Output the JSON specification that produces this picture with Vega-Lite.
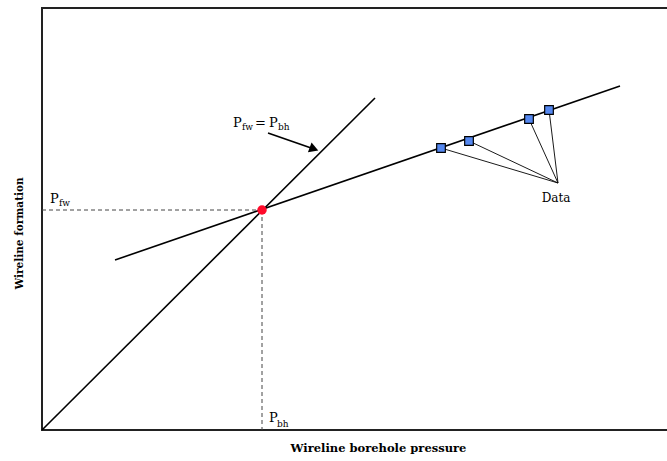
{
  "$schema": "https://vega.github.io/schema/vega-lite/v6.json",
  "autosize": "none",
  "width": 672,
  "height": 422,
  "padding": {"left": 42, "top": 8, "right": 0, "bottom": 31},
  "background": "white",
  "config": {
    "view": {"stroke": "#222", "strokeWidth": 2},
    "font": "DejaVu Serif"
  },
  "datasets": {
    "segs": [
      {"kind": "equal", "x": 0, "y": 0, "x2": 333, "y2": 332},
      {"kind": "fit", "x": 73, "y": 170, "x2": 578, "y2": 344},
      {"kind": "dash", "x": 0, "y": 220, "x2": 220, "y2": 220},
      {"kind": "dash", "x": 220, "y": 220, "x2": 220, "y2": 0},
      {"kind": "conn", "x": 399, "y": 282, "x2": 516, "y2": 247},
      {"kind": "conn", "x": 427, "y": 289, "x2": 516, "y2": 247},
      {"kind": "conn", "x": 487, "y": 311, "x2": 516, "y2": 247},
      {"kind": "conn", "x": 507, "y": 320, "x2": 516, "y2": 247},
      {"kind": "arrow", "x": 226, "y": 297, "x2": 272, "y2": 281}
    ],
    "pts": [
      {"x": 399, "y": 282},
      {"x": 427, "y": 289},
      {"x": 487, "y": 311},
      {"x": 507, "y": 320}
    ],
    "labels": [
      {"role": "main", "text": "P", "x": 8, "y": 227},
      {"role": "sub", "text": "fw", "x": 17, "y": 224},
      {"role": "main", "text": "P", "x": 191, "y": 303},
      {"role": "sub", "text": "fw", "x": 200, "y": 300},
      {"role": "main", "text": "=", "x": 213, "y": 303},
      {"role": "main", "text": "P", "x": 227, "y": 303},
      {"role": "sub", "text": "bh", "x": 236, "y": 300},
      {"role": "main", "text": "P", "x": 227, "y": 8},
      {"role": "sub", "text": "bh", "x": 235, "y": 3},
      {"role": "center", "text": "Data", "x": 514, "y": 228}
    ]
  },
  "layer": [
    {
      "data": {"name": "segs"},
      "transform": [{"filter": "datum.kind === 'equal' || datum.kind === 'fit'"}],
      "mark": {"type": "rule", "color": "black", "strokeWidth": 1.6},
      "encoding": {
        "x": {"field": "x", "type": "quantitative", "scale": {"domain": [0, 672], "nice": false, "zero": false},
              "axis": {"title": "Wireline borehole pressure", "labels": false, "ticks": false, "grid": false, "domain": false,
                       "titleFont": "DejaVu Serif", "titleFontSize": 11.5, "titleFontWeight": "bold", "titleColor": "black", "titlePadding": 12}},
        "y": {"field": "y", "type": "quantitative", "scale": {"domain": [0, 422], "nice": false, "zero": false},
              "axis": {"title": "Wireline formation", "labels": false, "ticks": false, "grid": false, "domain": false,
                       "titleFont": "DejaVu Serif", "titleFontSize": 10.5, "titleFontWeight": "bold", "titleColor": "black", "titlePadding": 18, "titleY": 225}},
        "x2": {"field": "x2"},
        "y2": {"field": "y2"}
      }
    },
    {
      "data": {"name": "segs"},
      "transform": [{"filter": "datum.kind === 'dash'"}],
      "mark": {"type": "rule", "color": "#444", "strokeWidth": 1, "strokeDash": [4, 3]},
      "encoding": {
        "x": {"field": "x", "type": "quantitative"},
        "y": {"field": "y", "type": "quantitative"},
        "x2": {"field": "x2"},
        "y2": {"field": "y2"}
      }
    },
    {
      "data": {"name": "segs"},
      "transform": [{"filter": "datum.kind === 'conn'"}],
      "mark": {"type": "rule", "color": "black", "strokeWidth": 0.9},
      "encoding": {
        "x": {"field": "x", "type": "quantitative"},
        "y": {"field": "y", "type": "quantitative"},
        "x2": {"field": "x2"},
        "y2": {"field": "y2"}
      }
    },
    {
      "data": {"name": "segs"},
      "transform": [{"filter": "datum.kind === 'arrow'"}],
      "mark": {"type": "rule", "color": "black", "strokeWidth": 1.6},
      "encoding": {
        "x": {"field": "x", "type": "quantitative"},
        "y": {"field": "y", "type": "quantitative"},
        "x2": {"field": "x2"},
        "y2": {"field": "y2"}
      }
    },
    {
      "data": {"values": [{"x": 272, "y": 281}]},
      "mark": {"type": "point", "shape": "triangle-right", "filled": true, "color": "black", "size": 110, "angle": 20, "opacity": 1},
      "encoding": {
        "x": {"field": "x", "type": "quantitative"},
        "y": {"field": "y", "type": "quantitative"}
      }
    },
    {
      "data": {"values": [{"x": 220, "y": 220}]},
      "mark": {"type": "circle", "color": "#ff0a2a", "size": 90, "opacity": 1},
      "encoding": {
        "x": {"field": "x", "type": "quantitative"},
        "y": {"field": "y", "type": "quantitative"}
      }
    },
    {
      "data": {"name": "pts"},
      "mark": {"type": "square", "fill": "#5588f0", "stroke": "black", "strokeWidth": 1.2, "size": 75, "opacity": 1},
      "encoding": {
        "x": {"field": "x", "type": "quantitative"},
        "y": {"field": "y", "type": "quantitative"}
      }
    },
    {
      "data": {"name": "labels"},
      "transform": [{"filter": "datum.role === 'main'"}],
      "mark": {"type": "text", "align": "left", "baseline": "alphabetic", "font": "DejaVu Serif", "fontSize": 13, "color": "black"},
      "encoding": {
        "x": {"field": "x", "type": "quantitative"},
        "y": {"field": "y", "type": "quantitative"},
        "text": {"field": "text"}
      }
    },
    {
      "data": {"name": "labels"},
      "transform": [{"filter": "datum.role === 'sub'"}],
      "mark": {"type": "text", "align": "left", "baseline": "alphabetic", "font": "DejaVu Serif", "fontSize": 9, "color": "black"},
      "encoding": {
        "x": {"field": "x", "type": "quantitative"},
        "y": {"field": "y", "type": "quantitative"},
        "text": {"field": "text"}
      }
    },
    {
      "data": {"name": "labels"},
      "transform": [{"filter": "datum.role === 'center'"}],
      "mark": {"type": "text", "align": "center", "baseline": "alphabetic", "font": "DejaVu Serif", "fontSize": 12, "color": "black"},
      "encoding": {
        "x": {"field": "x", "type": "quantitative"},
        "y": {"field": "y", "type": "quantitative"},
        "text": {"field": "text"}
      }
    }
  ]
}
